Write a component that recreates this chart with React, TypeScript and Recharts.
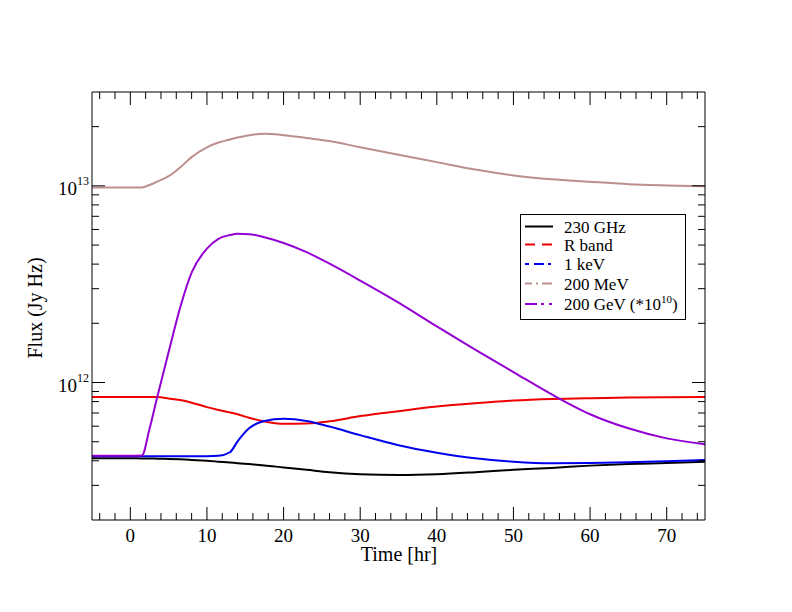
import React from "react";
import { LineChart, Line, XAxis, YAxis } from "recharts";

// time grid (hours)
const timeHr = [
  -5, -2, 0, 1.5, 2.5, 3.5, 5, 6.5, 8, 10, 11.5, 13, 14, 15.5, 17.5, 20, 23, 26,
  30, 35, 40, 45, 50, 55, 60, 65, 70, 75,
];

// fluxes in Jy Hz
const flux230GHz = [
  4.12e11, 4.12e11, 4.12e11, 4.11e11, 4.11e11, 4.1e11, 4.09e11, 4.07e11, 4.04e11,
  4.0e11, 3.96e11, 3.92e11, 3.89e11, 3.85e11, 3.79e11, 3.7e11, 3.6e11, 3.5e11,
  3.42e11, 3.39e11, 3.42e11, 3.5e11, 3.6e11, 3.68e11, 3.78e11, 3.85e11, 3.9e11,
  3.96e11,
];
const fluxRBand = [
  8.44e11, 8.44e11, 8.44e11, 8.44e11, 8.44e11, 8.43e11, 8.3e11, 8.14e11, 7.9e11,
  7.5e11, 7.25e11, 7.05e11, 6.9e11, 6.62e11, 6.34e11, 6.17e11, 6.19e11, 6.35e11,
  6.75e11, 7.15e11, 7.55e11, 7.85e11, 8.1e11, 8.25e11, 8.33e11, 8.38e11, 8.42e11,
  8.44e11,
];
const flux1keV = [
  4.22e11, 4.22e11, 4.22e11, 4.22e11, 4.22e11, 4.22e11, 4.22e11, 4.22e11, 4.22e11,
  4.22e11, 4.24e11, 4.42e11, 5.02e11, 5.85e11, 6.38e11, 6.54e11, 6.38e11, 5.97e11,
  5.4e11, 4.8e11, 4.4e11, 4.12e11, 3.96e11, 3.89e11, 3.9e11, 3.93e11, 3.98e11,
  4.04e11,
];
const flux200MeV = [
  9.8e12, 9.8e12, 9.8e12, 9.82e12, 1.01e13, 1.05e13, 1.12e13, 1.24e13, 1.4e13,
  1.57e13, 1.66e13, 1.72e13, 1.76e13, 1.81e13, 1.84e13, 1.81e13, 1.75e13, 1.69e13,
  1.57e13, 1.44e13, 1.32e13, 1.21e13, 1.13e13, 1.08e13, 1.05e13, 1.02e13, 1.005e13,
  0.995e13,
];
const flux200GeV = [
  4.24e11, 4.24e11, 4.24e11, 4.25e11, 5.8e11, 8.4e11, 1.43e12, 2.4e12, 3.62e12,
  4.8e12, 5.38e12, 5.62e12, 5.7e12, 5.68e12, 5.48e12, 5.12e12, 4.6e12, 4.02e12,
  3.3e12, 2.55e12, 1.93e12, 1.47e12, 1.13e12, 8.7e11, 6.9e11, 5.85e11, 5.2e11,
  4.85e11,
];

const seriesNames = ["230 GHz", "R band", "1 keV", "200 MeV", "200 GeV"];
const seriesValues = [flux230GHz, fluxRBand, flux1keV, flux200MeV, flux200GeV];
const seriesColors = ["#000000", "#ee0000", "#0000ee", "#bc8f8f", "#9400d3"];
const legendDash = ["", "10 7", "4 5 10 4 3 10", "7 4 2 4 10 4", "12 4 3 5 3 10"];

const xTicks = [
  -4, -2, 0, 2, 4, 6, 8, 10, 12, 14, 16, 18, 20, 22, 24, 26, 28, 30, 32, 34, 36,
  38, 40, 42, 44, 46, 48, 50, 52, 54, 56, 58, 60, 62, 64, 66, 68, 70, 72, 74,
];
const xMajor = [0, 10, 20, 30, 40, 50, 60, 70];
const yTicks = [
  3e11, 4e11, 5e11, 6e11, 7e11, 8e11, 9e11, 1e12, 2e12, 3e12, 4e12, 5e12, 6e12,
  7e12, 8e12, 9e12, 1e13, 2e13,
];
const yMajor = [1e12, 1e13];

const data = timeHr.map((t, i) => {
  const row: Record<string, number> = { t };
  seriesValues.forEach((vals, k) => {
    row["s" + k] = vals[i];
  });
  return row;
});

const FONT = "'Liberation Serif', 'Times New Roman', serif";
const MAJ = 13;
const MIN = 7;

function BottomTick(props: any) {
  const { x, y, payload } = props;
  const major = xMajor.includes(payload.value);
  return (
    <g>
      <line x1={x} x2={x} y1={y} y2={y - (major ? MAJ : MIN)} stroke="#000" />
      {major && (
        <text x={x} y={y + 22} textAnchor="middle" fontSize={19} fontFamily={FONT} fill="#000">
          {payload.value}
        </text>
      )}
    </g>
  );
}

function TopTick(props: any) {
  const { x, y, payload } = props;
  const major = xMajor.includes(payload.value);
  return <line x1={x} x2={x} y1={y} y2={y + (major ? MAJ : MIN)} stroke="#000" />;
}

function LeftTick(props: any) {
  const { x, y, payload } = props;
  const major = yMajor.includes(payload.value);
  const exp = Math.round(Math.log10(payload.value));
  return (
    <g>
      <line x1={x} x2={x + (major ? MAJ : MIN)} y1={y} y2={y} stroke="#000" />
      {major && (
        <text x={x - 3} y={y + 9} textAnchor="end" fontSize={19} fontFamily={FONT} fill="#000">
          10
          <tspan dy={-10} fontSize={12}>
            {exp}
          </tspan>
        </text>
      )}
    </g>
  );
}

function RightTick(props: any) {
  const { x, y, payload } = props;
  const major = yMajor.includes(payload.value);
  return <line x1={x} x2={x - (major ? MAJ : MIN)} y1={y} y2={y} stroke="#000" />;
}

function Overlay() {
  const rowY = [218.5, 236.5, 256, 275.5, 296];
  return (
    <svg
      width={784}
      height={604}
      style={{ position: "absolute", left: 0, top: 0, pointerEvents: "none" }}
      fontFamily={FONT}
    >
      <text x={391} y={553} textAnchor="middle" fontSize={20}>
        Time [hr]
      </text>
      <text
        x={0}
        y={0}
        transform="translate(34, 300) rotate(-90)"
        textAnchor="middle"
        fontSize={20}
      >
        Flux (Jy Hz)
      </text>
      <rect x={512.5} y={206.5} width={165} height={105} fill="#fff" stroke="#000" />
      {seriesNames.map((name, k) => (
        <g key={name}>
          <line
            x1={517}
            x2={545}
            y1={rowY[k]}
            y2={rowY[k]}
            stroke={seriesColors[k]}
            strokeWidth={2}
            strokeDasharray={legendDash[k] || undefined}
          />
          <text x={556} y={rowY[k] + 6} fontSize={17}>
            {name}
            {k === 4 && (
              <>
                {" (*10"}
                <tspan dy={-7} fontSize={11}>
                  10
                </tspan>
                <tspan dy={7}>)</tspan>
              </>
            )}
          </text>
        </g>
      ))}
    </svg>
  );
}

export default function App() {
  return (
    <div style={{ position: "relative", width: 784, height: 604, background: "#fff" }}>
      <LineChart
        width={784}
        height={604}
        data={data}
        margin={{ top: 83, right: 86, bottom: 52, left: 24 }}
      >
        <XAxis
          dataKey="t"
          type="number"
          domain={[-5, 75]}
          allowDataOverflow
          ticks={xTicks}
          interval={0}
          height={40}
          tickSize={0}
          tickMargin={0}
          tickLine={false}
          axisLine={{ stroke: "#000" }}
          tick={<BottomTick />}
        />
        <XAxis
          xAxisId="top"
          orientation="top"
          dataKey="t"
          type="number"
          domain={[-5, 75]}
          allowDataOverflow
          ticks={xTicks}
          interval={0}
          height={1}
          tickSize={0}
          tickMargin={0}
          tickLine={false}
          axisLine={{ stroke: "#000" }}
          tick={<TopTick />}
        />
        <YAxis
          type="number"
          scale="log"
          domain={[2e11, 3e13]}
          allowDataOverflow
          ticks={yTicks}
          interval={0}
          width={60}
          tickSize={0}
          tickMargin={0}
          tickLine={false}
          axisLine={{ stroke: "#000" }}
          tick={<LeftTick />}
        />
        <YAxis
          yAxisId="right"
          orientation="right"
          type="number"
          scale="log"
          domain={[2e11, 3e13]}
          allowDataOverflow
          ticks={yTicks}
          interval={0}
          width={1}
          tickSize={0}
          tickMargin={0}
          tickLine={false}
          axisLine={{ stroke: "#000" }}
          tick={<RightTick />}
        />
        {seriesNames.map((name, k) => (
          <Line
            key={name}
            name={name}
            dataKey={"s" + k}
            type="monotone"
            stroke={seriesColors[k]}
            strokeWidth={2}
            dot={false}
            isAnimationActive={false}
          />
        ))}
      </LineChart>
      <Overlay />
    </div>
  );
}
